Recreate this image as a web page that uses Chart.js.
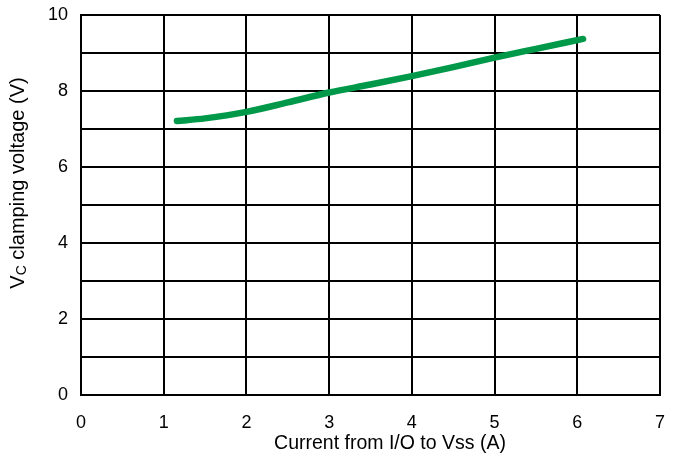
<!DOCTYPE html>
<html>
<head>
<meta charset="utf-8">
<script src="https://cdn.jsdelivr.net/npm/chart.js@4/dist/chart.umd.min.js"></script>
<style>
  body { margin: 0; background: #fff; }
  #wrap { width: 683px; height: 460px; }
</style>
</head>
<body>
<div id="wrap"><canvas id="clamp-chart" width="683" height="460"></canvas></div>
<script>
// values
const currentA = [1.16, 1.5, 2, 2.5, 3, 3.5, 4, 4.5, 5, 5.5, 6.07];
const clampV = [7.21, 7.28, 7.45, 7.70, 7.96, 8.17, 8.39, 8.63, 8.88, 9.11, 9.37];
const yLabels = [0, 2, 4, 6, 8, 10];
const xTitle = 'Current from I/O to Vss (A)';
const lineGreen = '#00994a';
const fontFam = '"Liberation Sans", Arial, sans-serif';

// axis titles drawn by hand (the y one needs a subscript C)
const titlePlugin = {
  id: 'titles',
  afterDraw(chart) {
    const c = chart.ctx;
    c.save();
    c.fillStyle = '#000';
    c.textBaseline = 'middle';

    c.font = '19.5px ' + fontFam;
    c.textAlign = 'center';
    c.fillText(xTitle, 390, 444);

    // y title, rotated
    c.translate(18, 183);
    c.rotate(-Math.PI / 2);
    c.textAlign = 'left';
    const big = '20px ' + fontFam;
    const small = '14px ' + fontFam;
    c.font = big;
    const wV = c.measureText('V').width;
    const wRest = c.measureText(' clamping voltage (V)').width;
    c.font = small;
    const wC = c.measureText('C').width;
    let x = -(wV + wC + wRest) / 2;
    c.font = big;
    c.fillText('V', x, 0);
    x += wV;
    c.font = small;
    c.fillText('C', x, 4);
    x += wC;
    c.font = big;
    c.fillText(' clamping voltage (V)', x, 0);
    c.restore();
  }
};

const ctx = document.getElementById('clamp-chart');

new Chart(ctx, {
  type: 'line',
  data: {
    datasets: [{
      data: currentA.map((v, i) => ({ x: v, y: clampV[i] })),
      borderColor: lineGreen,
      borderWidth: 6.5,
      borderCapStyle: 'round',
      borderJoinStyle: 'round',
      pointRadius: 0,
      cubicInterpolationMode: 'monotone',
      fill: false
    }]
  },
  options: {
    responsive: false,
    animation: false,
    layout: { padding: { left: 0, top: 15, right: 23, bottom: 0 } },
    plugins: {
      legend: { display: false },
      tooltip: { enabled: false }
    },
    scales: {
      x: {
        type: 'linear',
        min: 0,
        max: 7,
        ticks: {
          stepSize: 1,
          padding: 17,
          color: '#000',
          font: { family: fontFam, size: 18 },
          maxRotation: 0
        },
        grid: { color: '#000', lineWidth: 2, drawTicks: false },
        border: { color: '#000', width: 2 },
        afterFit(scale) {
          scale.height = 65;
          scale.paddingLeft = 0;
          scale.paddingRight = 0;
        }
      },
      y: {
        min: 0,
        max: 10,
        ticks: {
          stepSize: 1,
          padding: 13,
          color: '#000',
          font: { family: fontFam, size: 18 },
          callback: v => yLabels.includes(v) ? v : ''
        },
        grid: { color: '#000', lineWidth: 2, drawTicks: false },
        border: { color: '#000', width: 2 },
        afterFit(scale) {
          scale.width = 81;
          scale.paddingTop = 0;
          scale.paddingBottom = 0;
        }
      }
    }
  },
  plugins: [titlePlugin]
});
</script>
</body>
</html>
